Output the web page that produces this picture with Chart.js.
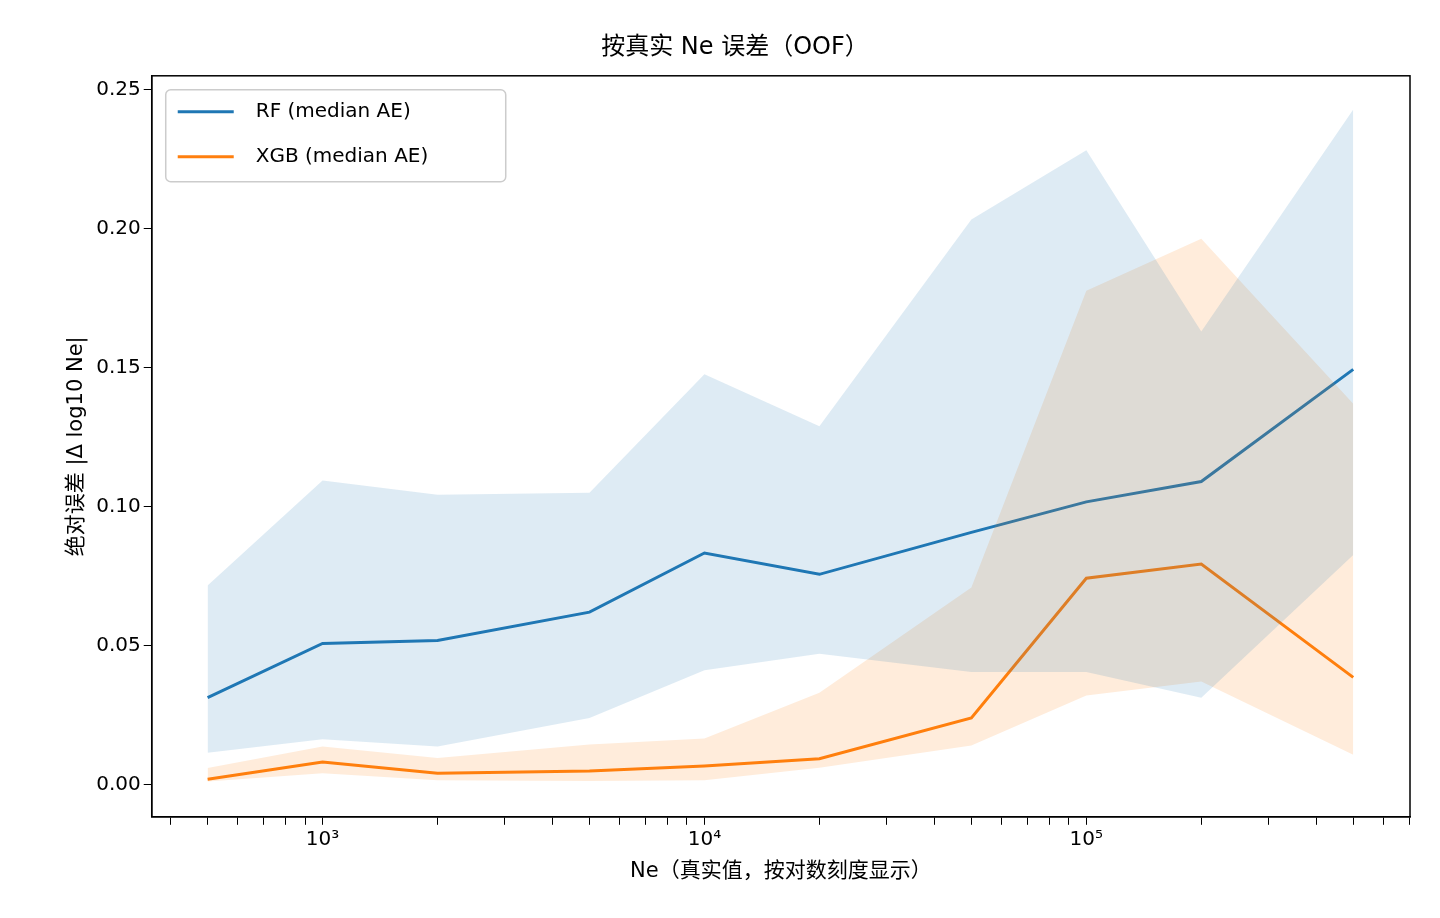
<!DOCTYPE html>
<html><head><meta charset="utf-8">
<script src="https://cdn.jsdelivr.net/npm/chart.js@4/dist/chart.umd.min.js"></script>
<style>html,body{margin:0;background:#fff}#wrap{width:1440px;height:918px}</style>
</head><body><div id="wrap"><canvas id="c" width="1440" height="918"></canvas></div>
<script>
const neValues = [500, 1000, 2000, 5000, 10000, 20000, 50000, 100000, 200000, 500000]
const rfMedian = [0.0312, 0.0507, 0.0518, 0.062, 0.0833, 0.0756, 0.0907, 0.1017, 0.109, 0.1494]
const rfLower  = [0.0114, 0.0162, 0.0136, 0.0239, 0.0411, 0.047, 0.0404, 0.0404, 0.0312, 0.0826]
const rfUpper  = [0.0716, 0.1094, 0.1043, 0.105, 0.1476, 0.1289, 0.2034, 0.2283, 0.163, 0.243]
const xgbMedian = [0.0018, 0.008, 0.004, 0.0048, 0.0066, 0.0092, 0.0239, 0.0742, 0.0793, 0.0385]
const xgbLower  = [0.001, 0.004, 0.0015, 0.0012, 0.0015, 0.006, 0.014, 0.032, 0.037, 0.0106]
const xgbUpper  = [0.0059, 0.0136, 0.0095, 0.0143, 0.0165, 0.033, 0.0709, 0.1777, 0.1964, 0.137]

const pts = arr => arr.map((v, i) => ({ x: neValues[i], y: v }))
const FONT = "'DejaVu Sans', 'Noto Sans CJK SC', sans-serif"
const sup = { 3: '³', 4: '⁴', 5: '⁵' }

const band = (lo, hi, color) => [
  { data: pts(lo), borderWidth: 0, pointRadius: 0, fill: false, backgroundColor: color },
  { data: pts(hi), borderWidth: 0, pointRadius: 0, fill: '-1', backgroundColor: color }
]

// frame around the plot area + matplotlib style legend box
const framePlugin = {
  id: 'frame',
  afterDraw(chart) {
    const { ctx, chartArea: a } = chart
    ctx.save()
    ctx.strokeStyle = '#000'
    ctx.lineWidth = 1.5
    ctx.strokeRect(a.left, a.top, a.right - a.left, a.bottom - a.top)
    const items = chart.data.datasets.filter(d => d.label)
    const x0 = a.left + 14, y0 = a.top + 14, w = 340, h = 92
    ctx.fillStyle = 'rgba(255,255,255,0.8)'
    ctx.strokeStyle = '#ccc'
    ctx.lineWidth = 1.5
    ctx.beginPath()
    ctx.roundRect(x0, y0, w, h, 5)
    ctx.fill(); ctx.stroke()
    ctx.font = '20px ' + FONT
    ctx.textBaseline = 'middle'
    items.forEach((d, i) => {
      const y = y0 + 22 + i * 45
      ctx.strokeStyle = d.borderColor
      ctx.lineWidth = 3
      ctx.beginPath(); ctx.moveTo(x0 + 12, y); ctx.lineTo(x0 + 68, y); ctx.stroke()
      ctx.fillStyle = '#000'
      ctx.fillText(d.label, x0 + 90, y)
    })
    ctx.restore()
  }
}

new Chart(document.getElementById('c'), {
  type: 'line',
  data: {
    datasets: [
      ...band(rfLower, rfUpper, 'rgba(31,119,180,0.15)'),
      ...band(xgbLower, xgbUpper, 'rgba(255,127,14,0.15)'),
      { label: 'RF (median AE)', data: pts(rfMedian), borderColor: '#1f77b4', borderWidth: 3, pointRadius: 0, fill: false },
      { label: 'XGB (median AE)', data: pts(xgbMedian), borderColor: '#ff7f0e', borderWidth: 3, pointRadius: 0, fill: false }
    ]
  },
  options: {
    responsive: false,
    animation: false,
    layout: { padding: { left: 60, right: 30, top: 33, bottom: 30 } },
    scales: {
      x: {
        type: 'logarithmic', min: 357, max: 704000,
        grid: { drawOnChartArea: false, drawTicks: true, tickLength: 8, color: '#000' },
        border: { color: '#000', width: 1.5 },
        ticks: {
          color: '#000', font: { family: FONT, size: 20 }, autoSkip: false, maxRotation: 0,
          callback: v => { const e = Math.log10(v); return Math.abs(e - Math.round(e)) < 1e-9 && sup[Math.round(e)] ? '10' + sup[Math.round(e)] : '' }
        },
        afterBuildTicks: axis => {
          const t = []
          for (let e = 2; e <= 5; e++) for (let m = 1; m <= 9; m++) { const v = m * Math.pow(10, e); if (v >= 357 && v <= 704000) t.push({ value: v }) }
          axis.ticks = t
        },
        title: { display: true, text: 'Ne（真实值，按对数刻度显示）', color: '#000', font: { family: FONT, size: 21 } }
      },
      y: {
        min: -0.0117, max: 0.2551,
        grid: { drawOnChartArea: false, drawTicks: true, tickLength: 8, color: '#000' },
        border: { color: '#000', width: 1.5 },
        afterBuildTicks: axis => { axis.ticks = [0, 0.05, 0.1, 0.15, 0.2, 0.25].map(v => ({ value: v })) },
        ticks: { color: '#000', font: { family: FONT, size: 20 }, callback: v => v.toFixed(2) },
        title: { display: true, text: '绝对误差 |Δ log10 Ne|', color: '#000', font: { family: FONT, size: 21 } }
      }
    },
    plugins: {
      title: { display: true, text: '按真实 Ne 误差（OOF）', color: '#000', font: { family: FONT, size: 24, weight: 'normal' }, padding: { bottom: 14 } },
      legend: { display: false }
    }
  },
  plugins: [framePlugin]
})
</script></body></html>
